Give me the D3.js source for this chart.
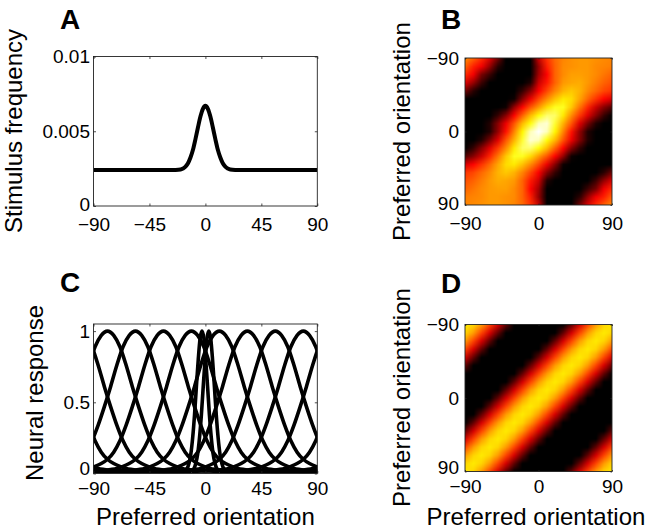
<!DOCTYPE html>
<html><head><meta charset="utf-8">
<script src="https://cdn.jsdelivr.net/npm/d3@7"></script>
<style>
html,body{margin:0;padding:0;background:#fff;}
svg{display:block;font-family:"Liberation Sans",Arial,Helvetica,sans-serif;}
</style></head><body>
<svg id="fig" width="652" height="531"></svg>
<script>
// ---------------- data ----------------
const orientTicks = [-90, -45, 0, 45, 90];
const squareTicks = [-90, 0, 90];
const freqTicks = [0, 0.005, 0.01];
const freqTickLabels = ["0", "0.005", "0.01"];
const respTicks = [0, 0.5, 1];
const respTickLabels = ["0", "0.5", "1"];
const panelLetters = ["A", "B", "C", "D"];

// Panel A: stimulus frequency vs orientation
const stimOrient = [-90,-30,-24,-20,-18,-16,-14,-12,-10,-8,-6,-4,-2,0,2,4,6,8,10,12,14,16,18,20,24,30,90];
const stimFreq = [0.0024,0.0024,0.00241,0.00244,0.00251,0.00263,0.00286,0.00324,0.00376,0.00447,0.00525,0.00598,0.0065,0.0067,
                  0.0065,0.00598,0.00525,0.00447,0.00376,0.00324,0.00286,0.00263,0.00251,0.00244,0.00241,0.0024,0.0024];

// Panel C: tuning curves (response vs distance from preferred orientation)
const tuneOffset = [0,5,10,15,20,25,30,35,40,45,50,55,60,65,70,75,80,85,90];
const broadProfile = [1.0,0.97,0.89,0.76,0.61,0.47,0.34,0.23,0.15,0.10,0.07,0.05,0.035,0.028,0.023,0.02,0.018,0.016,0.015];
const broadPrefs = [-78.75,-56.25,-33.75,-11.25,11.25,33.75,56.25,78.75];
const narrowOffset = [0,1.5,3,4.5,6,7.5,9,10.5,12,15,20,30,45,60,90];
const narrowProfile = [1.0,0.95,0.8,0.61,0.41,0.25,0.135,0.07,0.035,0.018,0.015,0.015,0.015,0.015,0.015];
const narrowPrefs = [-2.75, 2.75];

// Panels B and D: matrices over preferred orientation (rows: -90 at top)
const gridOrient = [-90,-80,-70,-60,-50,-40,-30,-20,-10,0,10,20,30,40,50,60,70,80,90];
const matrixB = [
 [0.58,0.52,0.44,0.33,0.17,0.00,-0.12,-0.17,-0.15,0.30,0.45,0.53,0.57,0.59,0.60,0.60,0.59,0.58,0.57],
 [0.52,0.42,0.36,0.22,0.06,-0.07,-0.15,-0.16,-0.12,0.22,0.42,0.52,0.58,0.59,0.60,0.60,0.58,0.57,0.56],
 [0.44,0.36,0.18,0.09,-0.05,-0.14,-0.16,-0.12,-0.05,0.24,0.38,0.52,0.58,0.61,0.61,0.60,0.58,0.55,0.52],
 [0.33,0.22,0.09,-0.06,-0.13,-0.17,-0.13,-0.05,0.05,0.30,0.41,0.52,0.60,0.62,0.63,0.60,0.56,0.52,0.49],
 [0.17,0.06,-0.05,-0.13,-0.18,-0.17,-0.06,0.08,0.20,0.37,0.48,0.57,0.64,0.67,0.64,0.58,0.53,0.48,0.45],
 [0.00,-0.07,-0.14,-0.17,-0.17,-0.12,0.02,0.20,0.35,0.48,0.58,0.66,0.72,0.70,0.62,0.53,0.45,0.38,0.32],
 [-0.12,-0.15,-0.16,-0.13,-0.06,0.02,0.22,0.38,0.50,0.60,0.70,0.78,0.78,0.67,0.55,0.43,0.30,0.20,0.12],
 [-0.17,-0.16,-0.12,-0.05,0.08,0.20,0.38,0.52,0.65,0.76,0.86,0.85,0.72,0.58,0.46,0.33,0.20,0.08,-0.02],
 [-0.15,-0.12,-0.05,0.05,0.20,0.35,0.50,0.65,0.76,0.93,0.96,0.80,0.64,0.50,0.33,0.18,0.05,-0.05,-0.12],
 [-0.15,-0.12,-0.05,0.05,0.22,0.40,0.57,0.74,0.93,1.00,0.93,0.74,0.57,0.40,0.22,0.05,-0.05,-0.12,-0.15],
 [-0.12,-0.05,0.05,0.18,0.33,0.50,0.64,0.80,0.96,0.93,0.76,0.65,0.50,0.35,0.20,0.05,-0.05,-0.12,-0.15],
 [-0.02,0.08,0.20,0.33,0.46,0.58,0.72,0.85,0.86,0.76,0.65,0.52,0.38,0.20,0.08,-0.05,-0.12,-0.16,-0.17],
 [0.12,0.20,0.30,0.43,0.55,0.67,0.78,0.78,0.70,0.60,0.50,0.38,0.22,0.02,-0.06,-0.13,-0.16,-0.15,-0.12],
 [0.32,0.38,0.45,0.53,0.62,0.70,0.72,0.66,0.58,0.48,0.35,0.20,0.02,-0.12,-0.17,-0.17,-0.14,-0.07,0.00],
 [0.45,0.48,0.53,0.58,0.64,0.67,0.64,0.57,0.48,0.37,0.20,0.08,-0.06,-0.17,-0.18,-0.13,-0.05,0.06,0.17],
 [0.49,0.52,0.56,0.60,0.63,0.62,0.60,0.52,0.41,0.30,0.05,-0.05,-0.13,-0.17,-0.13,-0.06,0.09,0.22,0.33],
 [0.52,0.55,0.58,0.60,0.61,0.61,0.58,0.52,0.38,0.24,-0.05,-0.12,-0.16,-0.14,-0.05,0.09,0.18,0.36,0.44],
 [0.56,0.57,0.58,0.60,0.60,0.59,0.58,0.52,0.42,0.22,-0.12,-0.16,-0.15,-0.07,0.06,0.22,0.36,0.42,0.52],
 [0.57,0.58,0.59,0.60,0.60,0.59,0.57,0.53,0.45,0.30,-0.15,-0.17,-0.12,0.00,0.17,0.33,0.44,0.52,0.58]
];
// Panel D: value vs (wrapped) orientation offset 0..90 in steps of 10
const uniformProfile = [0.72,0.69,0.605,0.475,0.315,0.145,-0.015,-0.145,-0.23,-0.26];

// ---------------- drawing ----------------
const svg = d3.select("#fig");
svg.append("rect").attr("width",652).attr("height",531).attr("fill","#fff");
const minus = s => String(s).replace("-", "\u2212");
const TICK_FS = 19, TITLE_FS = 24;

function hot(t){
  t = Math.max(0, Math.min(1, t));
  const r = Math.min(1, t/0.375), g = Math.max(0, Math.min(1, (t-0.375)/0.375)), b = Math.max(0, (t-0.75)/0.25);
  return d3.rgb(255*r, 255*g, 255*b).toString();
}
const heatColor = d3.scaleSequential(hot).domain([0, 1]).clamp(true);

function frame(x, y, tickLen, xTicks, yTicks, yFmt, xPad, yPad, zeroLift){
  const [x0, x1] = x.range(), [y0, y1] = y.range();
  const g = svg.append("g");
  const bottom = g.append("g").attr("transform",`translate(0,${y0})`)
    .call(d3.axisBottom(x).tickValues(xTicks).tickSizeInner(-tickLen).tickSizeOuter(0).tickPadding(xPad).tickFormat(minus));
  const top = g.append("g").attr("transform",`translate(0,${y1})`)
    .call(d3.axisTop(x).tickValues(xTicks).tickSizeInner(-tickLen).tickSizeOuter(0).tickFormat(""));
  const left = g.append("g").attr("transform",`translate(${x0},0)`)
    .call(d3.axisLeft(y).tickValues(yTicks).tickSizeInner(-tickLen).tickSizeOuter(0).tickPadding(yPad).tickFormat(yFmt));
  const right = g.append("g").attr("transform",`translate(${x1},0)`)
    .call(d3.axisRight(y).tickValues(yTicks).tickSizeInner(-tickLen).tickSizeOuter(0).tickFormat(""));
  [bottom, top, left, right].forEach(a => {
    a.select(".domain").remove();
    a.selectAll("line").attr("stroke","#222").attr("stroke-width",0.8);
    a.selectAll("text").attr("fill","#000").style("font-size", TICK_FS+"px").style("font-family","inherit");
  });
  const lowest = d3.max(yTicks, t => y(t));
  left.selectAll(".tick").filter(d => y(d) === lowest).select("text").attr("y", -zeroLift);
  g.append("rect").attr("x",x0).attr("y",y1).attr("width",x1-x0).attr("height",y0-y1)
    .attr("fill","none").attr("stroke","#222").attr("stroke-width",0.9);
  return g;
}

function clip(id, x, y){
  const [x0,x1] = x.range(), [y0,y1] = y.range();
  svg.append("clipPath").attr("id",id).append("rect")
    .attr("x",x0).attr("y",Math.min(y0,y1)).attr("width",x1-x0).attr("height",Math.abs(y0-y1));
  return `url(#${id})`;
}

// cells coloured through heatColor, smoothed (like shading interp) on a canvas of the box size
function heatmap(matrix, x, y){
  const n = gridOrient.length;
  const small = document.createElement("canvas");
  small.width = n; small.height = n;
  const sctx = small.getContext("2d");
  const img = sctx.createImageData(n, n);
  for (let j = 0; j < n; j++) for (let i = 0; i < n; i++){
    const c = d3.rgb(heatColor(matrix[j][i]));
    const k = 4*(j*n + i);
    img.data[k] = c.r; img.data[k+1] = c.g; img.data[k+2] = c.b; img.data[k+3] = 255;
  }
  sctx.putImageData(img, 0, 0);
  const [x0, x1] = x.range(), [y0, y1] = y.range();
  const S = 4;
  const W = Math.round((x1 - x0) * S), H = Math.round((y1 - y0) * S);
  const big = document.createElement("canvas");
  big.width = W; big.height = H;
  const bctx = big.getContext("2d");
  bctx.imageSmoothingEnabled = true;
  bctx.imageSmoothingQuality = "low";
  const step = gridOrient[1] - gridOrient[0];
  const xa = x(gridOrient[0] - step/2), xb = x(gridOrient[n-1] + step/2);
  const ya = y(gridOrient[0] - step/2), yb = y(gridOrient[n-1] + step/2);
  bctx.drawImage(small, 0, 0, n, n, (xa - x0) * S, (ya - y0) * S, (xb - xa) * S, (yb - ya) * S);
  svg.append("image").attr("href", big.toDataURL("image/png"))
    .attr("x", x0).attr("y", y0).attr("width", x1 - x0).attr("height", y1 - y0)
    .attr("preserveAspectRatio","none");
}

function yTitle(text, xb, yc){
  svg.append("text").attr("transform",`translate(${xb},${yc}) rotate(-90)`)
    .attr("text-anchor","middle").style("font-size",TITLE_FS+"px").text(text);
}
function xTitle(text, xc, yb){
  svg.append("text").attr("x",xc).attr("y",yb).attr("text-anchor","middle").style("font-size",TITLE_FS+"px").text(text);
}
function letter(t, x, y){
  svg.append("text").attr("x",x).attr("y",y).style("font-size","28px").style("font-weight","bold").text(t);
}

// ----- Panel A -----
const xA = d3.scaleLinear().domain([-90, 90]).range([93.5, 317.3]);
const yA = d3.scaleLinear().domain([0, 0.01]).range([206, 56.5]);
svg.append("path").datum(stimOrient.map((o,i)=>[o, stimFreq[i]]))
  .attr("clip-path", clip("clipA", xA, yA))
  .attr("fill","none").attr("stroke","#000").attr("stroke-width",4).attr("stroke-linejoin","round")
  .attr("d", d3.line().x(d=>xA(d[0])).y(d=>yA(d[1])).curve(d3.curveMonotoneX));
frame(xA, yA, 2.5, orientTicks, freqTicks, (d,i)=>freqTickLabels[i], 12, 3.5, 2);
yTitle("Stimulus frequency", 21.5, 131);
letter(panelLetters[0], 60, 29);

// ----- Panel C -----
const xC = d3.scaleLinear().domain([-90, 90]).range([93.5, 317.3]);
const yC = d3.scaleLinear().domain([0, 1.05]).range([473.5, 324]);
const clipC = clip("clipC", xC, yC);
const lineC = d3.line().x(d=>xC(d[0])).y(d=>yC(d[1])).curve(d3.curveMonotoneX);
function curvePoints(pref, shift, offs, prof){
  const pts = [];
  for (let k = offs.length-1; k > 0; k--) pts.push([pref + shift - offs[k], prof[k]]);
  for (let k = 0; k < offs.length; k++) pts.push([pref + shift + offs[k], prof[k]]);
  return pts;
}
const gC = svg.append("g").attr("clip-path", clipC);
[-180, 0, 180].forEach(shift => {
  broadPrefs.forEach(p => gC.append("path").datum(curvePoints(p, shift, tuneOffset, broadProfile))
    .attr("fill","none").attr("stroke","#000").attr("stroke-width",3.6).attr("d", lineC));
  narrowPrefs.forEach(p => gC.append("path").datum(curvePoints(p, shift, narrowOffset, narrowProfile))
    .attr("fill","none").attr("stroke","#000").attr("stroke-width",3.6).attr("d", lineC));
});
frame(xC, yC, 2.5, orientTicks, respTicks, (d,i)=>respTickLabels[i], 8.5, 3.5, 5);
yTitle("Neural response", 43, 393);
xTitle("Preferred orientation", 205.4, 525);
letter(panelLetters[2], 60, 292);

// ----- Panel B -----
const xB = d3.scaleLinear().domain([-90, 90]).range([465, 612]);
const yB = d3.scaleLinear().domain([-90, 90]).range([58, 205]);
heatmap(matrixB, xB, yB);
frame(xB, d3.scaleLinear().domain([-90,90]).range([205,58]), 1.5, squareTicks, squareTicks, d => minus(-d), 12, 6, 2);
yTitle("Preferred orientation", 410, 131.5);
letter(panelLetters[1], 441, 28.5);

// ----- Panel D -----
const xD = d3.scaleLinear().domain([-90, 90]).range([465, 612]);
const yD = d3.scaleLinear().domain([-90, 90]).range([324.5, 471.5]);
const matrixD = gridOrient.map((_, j) => gridOrient.map((_, i) => {
  const a = Math.abs(i + j - (gridOrient.length - 1));
  const idx = a <= 9 ? a : 18 - a;
  return uniformProfile[idx];
}));
heatmap(matrixD, xD, yD);
frame(xD, d3.scaleLinear().domain([-90,90]).range([471.5,324.5]), 1.5, squareTicks, squareTicks, d => minus(-d), 8.5, 6, 4);
yTitle("Preferred orientation", 410, 397.5);
xTitle("Preferred orientation", 536, 525);
letter(panelLetters[3], 441, 293);
</script>
</body></html>
